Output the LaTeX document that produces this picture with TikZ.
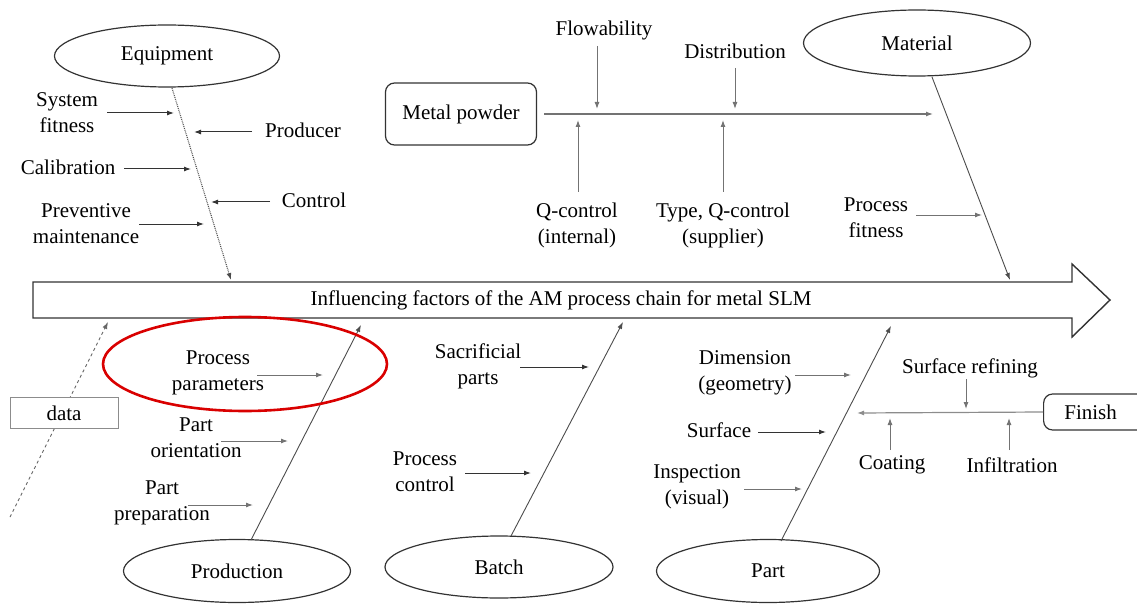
\documentclass[tikz,border=0pt]{standalone}
\usepackage{fontspec}
\setmainfont{Liberation Serif}
\usetikzlibrary{arrows.meta,shapes.geometric}
\begin{document}
\begin{tikzpicture}[x=1pt,y=-1pt,
 txt/.style={align=center,font=\fontsize{21}{26}\selectfont,inner sep=0pt},
 oval/.style={draw=black!80,line width=1.2pt,ellipse,inner sep=0pt,font=\fontsize{21}{26}\selectfont},
 rbox/.style={draw=black!80,line width=1.2pt,rounded corners=9pt,inner sep=0pt,font=\fontsize{21}{26}\selectfont},
 bone/.style={draw=black!70,line width=0.9pt,-{Latex[length=7pt,width=5pt]}},
 feed/.style={draw=black!80,line width=1pt,-{Latex[length=7pt,width=5pt]}},
 lfeed/.style={draw=black!55,line width=1pt,-{Latex[length=7pt,width=5pt]}}
]
\useasboundingbox (0,0) rectangle (1137,604);
\clip (0,0) rectangle (1137,604);

% main arrow
\draw[black!80,line width=1.4pt] (33,282) -- (1072,282) -- (1072,264) -- (1110,300) -- (1072,337) -- (1072,318) -- (33,318) -- cycle;
\node[txt] (main) at (561,300) {Influencing factors of the AM process chain for metal SLM};

% ---------- Equipment
\node[oval,minimum width=225pt,minimum height=62pt] (eq) at (167,56) {Equipment};
\coordinate (eqS) at (172,88); \coordinate (eqE) at (231,280);
\draw[bone,densely dotted,line width=1.1pt] (eqS) -- (eqE);
\node[txt] (sf) at (67,113) {System\\fitness};
\coordinate (sfA) at (107,113); \coordinate (sfB) at (174,113);
\draw[feed] (sfA) -- (sfB);
\node[txt] (prod) at (303,130) {Producer};
\coordinate (prA) at (252,132); \coordinate (prB) at (194,132);
\draw[feed] (prA) -- (prB);
\node[txt] (cal) at (68,167) {Calibration};
\coordinate (caA) at (124,169); \coordinate (caB) at (191,169);
\draw[feed] (caA) -- (caB);
\node[txt] (ctl) at (314,200) {Control};
\coordinate (ctA) at (270,202); \coordinate (ctB) at (211,202);
\draw[feed] (ctA) -- (ctB);
\node[txt] (pm) at (86,224) {Preventive\\maintenance};
\coordinate (pmA) at (139,224); \coordinate (pmB) at (204,224);
\draw[feed] (pmA) -- (pmB);

% ---------- Metal powder / Material
\node[rbox,minimum width=151pt,minimum height=62pt] (mp) at (461,114) {Metal powder};
\coordinate (mpE) at (933,114);
\draw[bone,draw=black!55,line width=1.3pt] (mp.east) ++(7,0) coordinate (mpS) -- (mpE);
\node[txt] (flow) at (604,30) {Flowability};
\coordinate (flA) at (597,46); \coordinate (flB) at (597,109);
\draw[lfeed] (flA) -- (flB);
\node[txt] (dist) at (735,51) {Distribution};
\coordinate (diA) at (735,68); \coordinate (diB) at (735,109);
\draw[lfeed] (diA) -- (diB);
\node[txt] (qci) at (577,225) {Q-control\\(internal)};
\coordinate (qiA) at (578,192); \coordinate (qiB) at (578,120);
\draw[lfeed] (qiA) -- (qiB);
\node[txt] (qcs) at (723,225) {Type, Q-control\\(supplier)};
\coordinate (qsA) at (723,192); \coordinate (qsB) at (723,120);
\draw[lfeed] (qsA) -- (qsB);
\node[oval,minimum width=227pt,minimum height=66pt] (mat) at (917,43) {Material};
\coordinate (maS) at (932,77); \coordinate (maE) at (1010,280);
\draw[bone] (maS) -- (maE);
\node[txt] (pf) at (876,218) {Process\\fitness};
\coordinate (pfA) at (916,215); \coordinate (pfB) at (982,215);
\draw[lfeed] (pfA) -- (pfB);

% ---------- data / Production
\coordinate (daS) at (10,517); \coordinate (daE) at (108,322);
\draw[bone,dashed,draw=black!60] (daS) -- (daE);
\node[draw=black!45,line width=1pt,fill=white,minimum width=108pt,minimum height=31pt,inner sep=0pt,font=\fontsize{21}{26}\selectfont] (data) at (64,413) {data};

\node[txt] (pp) at (218,373) {Process\\parameters};
\coordinate (ppA) at (257,375); \coordinate (ppB) at (323,375);
\draw[lfeed] (ppA) -- (ppB);
\node[txt] (po) at (196,438) {Part\\orientation};
\coordinate (poA) at (221,441); \coordinate (poB) at (288,441);
\draw[lfeed] (poA) -- (poB);
\node[txt] (ppr) at (162,503) {Part\\preparation};
\coordinate (prpA) at (188,505); \coordinate (prpB) at (253,505);
\draw[lfeed] (prpA) -- (prpB);
\node[oval,minimum width=227pt,minimum height=63pt] (pro) at (237,571) {Production};
\coordinate (poS) at (251,540); \coordinate (poE) at (361,325);
\draw[bone] (poS) -- (poE);
\node[draw=red!85!black,line width=2.6pt,ellipse,minimum width=284pt,minimum height=94pt] (hl) at (245,364) {};

% ---------- Batch
\node[oval,minimum width=228pt,minimum height=62pt] (bat) at (499,567) {Batch};
\coordinate (baS) at (511,536); \coordinate (baE) at (623,322);
\draw[bone] (baS) -- (baE);
\node[txt] (sac) at (478,366) {Sacrificial\\parts};
\coordinate (saA) at (520,367); \coordinate (saB) at (589,367);
\draw[feed] (saA) -- (saB);
\node[txt] (pc) at (425,472) {Process\\control};
\coordinate (pcA) at (465,473); \coordinate (pcB) at (531,473);
\draw[feed] (pcA) -- (pcB);

% ---------- Part
\node[oval,minimum width=223pt,minimum height=63pt] (part) at (768,571) {Part};
\coordinate (paS) at (781,541); \coordinate (paE) at (891,326);
\draw[bone] (paS) -- (paE);
\node[txt] (dim) at (745,373) {Dimension\\(geometry)};
\coordinate (dmA) at (795,375); \coordinate (dmB) at (851,375);
\draw[lfeed] (dmA) -- (dmB);
\node[txt] (surf) at (719,430) {Surface};
\coordinate (suA) at (758,432); \coordinate (suB) at (826,432);
\draw[feed] (suA) -- (suB);
\node[txt] (insp) at (697,487) {Inspection\\(visual)};
\coordinate (inA) at (744,489); \coordinate (inB) at (802,489);
\draw[lfeed] (inA) -- (inB);

% ---------- Finish
\node[rbox,minimum width=106pt,minimum height=36pt,anchor=west] (fin) at (1043,412) {\hspace*{-12pt}Finish};
\coordinate (fiE) at (857,413);
\draw[bone,draw=black!45,line width=1.2pt] (fin.west) -- (fiE);
\node[txt] (sr) at (970,368) {Surface refining};
\coordinate (srA) at (966,379); \coordinate (srB) at (966,409);
\draw[lfeed] (srA) -- (srB);
\node[txt] (coat) at (892,465) {Coating};
\coordinate (coA) at (890,450); \coordinate (coB) at (890,418);
\draw[lfeed] (coA) -- (coB);
\node[txt] (inf) at (1012,465) {Infiltration};
\coordinate (ifA) at (1009,450); \coordinate (ifB) at (1009,418);
\draw[lfeed] (ifA) -- (ifB);
\end{tikzpicture}
\end{document}
